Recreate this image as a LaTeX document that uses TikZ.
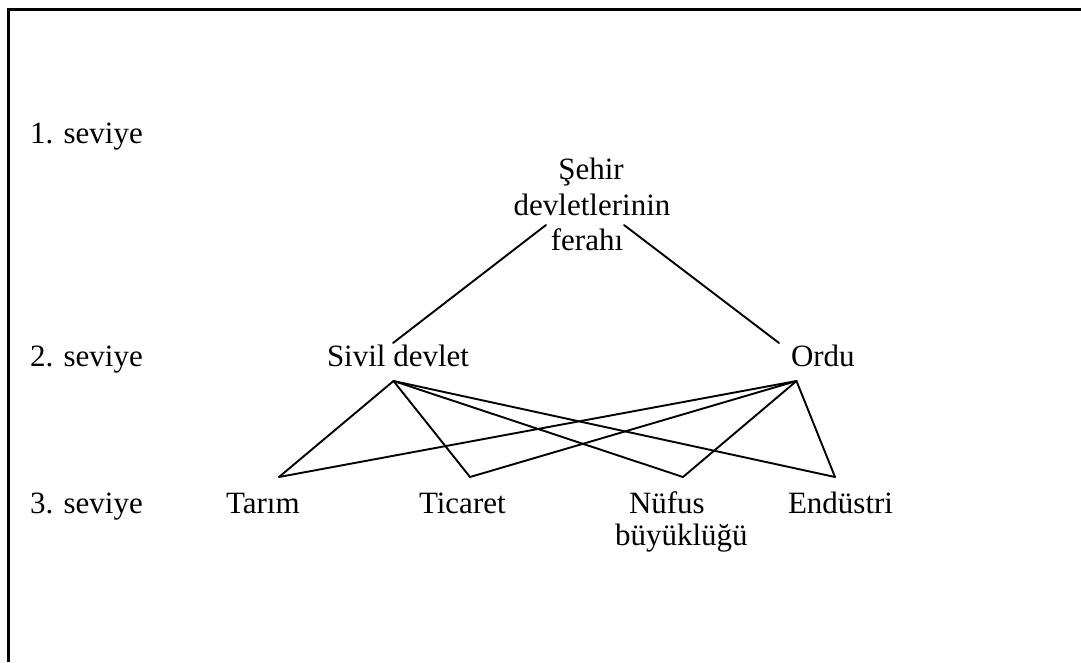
\documentclass[tikz,border=0pt]{standalone}
\usepackage{fontspec}
\setmainfont{Liberation Serif}
\begin{document}
\begin{tikzpicture}[x=1pt,y=-1pt,
  lbl/.style={inner sep=0pt,outer sep=0pt,anchor=base west,font=\fontsize{31}{35.5}\selectfont},
  edge/.style={line width=1.9pt,line cap=round,line join=round},
  frame/.style={line width=2.2pt}]
\useasboundingbox (0,0) rectangle (1081,662);
% open frame: top and left sides only
\draw[frame] (1081,9.5) -- (8.5,9.5) -- (8.5,662);
% level labels
\node[lbl] (lv1) at (30,143) {1. seviye};
\node[lbl] (lv2) at (30,366) {2. seviye};
\node[lbl] (lv3) at (30,513) {3. seviye};
% level 1
\node[lbl,anchor=base] (sehir1) at (591,179) {Şehir};
\node[lbl,anchor=base] (sehir2) at (592,215) {devletlerinin};
\node[lbl,anchor=base] (sehir3) at (587,250) {ferahı};
% level 2
\node[lbl] (sivil) at (327,366) {Sivil devlet};
\node[lbl] (ordu) at (791,366) {Ordu};
% level 3
\node[lbl] (tarim) at (226,513) {Tarım};
\node[lbl] (ticaret) at (419,513) {Ticaret};
\node[lbl] (nufus) at (629,513) {Nüfus};
\node[lbl] (nufus2) at (615,545) {büyüklüğü};
\node[lbl] (endustri) at (788,513) {Endüstri};
% connector end points
\coordinate (sehirL) at (546,225);
\coordinate (sehirR) at (624,225);
\coordinate (sivilT) at (393,343);
\coordinate (orduT) at (779,343);
\coordinate (sivilB) at (393.5,381);
\coordinate (orduB) at (796.5,381);
\coordinate (tarimT) at (279,477);
\coordinate (ticaretT) at (470,477);
\coordinate (nufusT) at (683,477);
\coordinate (endustriT) at (835,477);
% level 1 to level 2
\draw[edge] (sehirL) -- (sivilT);
\draw[edge] (sehirR) -- (orduT);
% level 2 to level 3
\foreach \t in {tarimT,ticaretT,nufusT,endustriT}{
  \draw[edge] (sivilB) -- (\t);
  \draw[edge] (orduB) -- (\t);
}
\end{tikzpicture}
\end{document}
